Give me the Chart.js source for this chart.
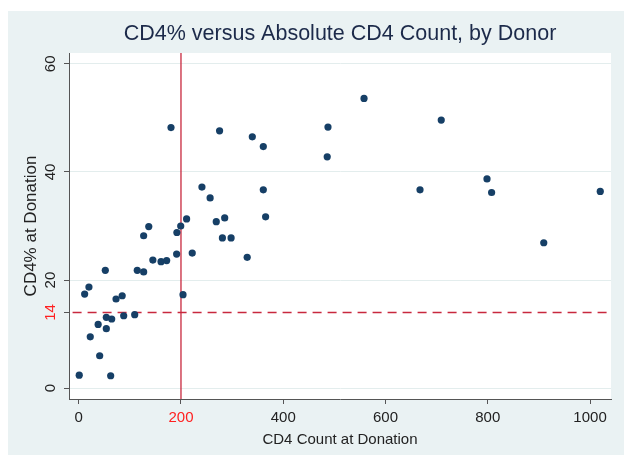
<!DOCTYPE html>
<html>
<head>
<meta charset="utf-8">
<script src="https://cdn.jsdelivr.net/npm/chart.js@4/dist/chart.umd.min.js"></script>
<style>
  html, body { margin: 0; padding: 0; background: #ffffff; }
  #wrap { position: absolute; left: 8px; top: 11px; width: 616px; height: 444px; background: #eaf2f3; }
</style>
</head>
<body>
<div id="wrap"><canvas id="cd4Chart"></canvas></div>
<script>
// CD4 count (x) and CD4% (y), one entry per donor
var cd4Count = [1, 62.5, 41, 22.6, 38, 54, 54, 64.5, 88, 109.5, 11.6, 20, 73, 85, 204, 52, 114.5, 127, 145, 161,
  172, 191.5, 222, 329.5, 127, 192, 281, 298, 180.5, 275.5, 339.5, 241, 257, 211, 199.5, 285.5, 269, 137, 361, 487.5,
  558, 486, 361, 365.5, 667.5, 709, 798.5, 807.5, 1020, 909.5]
var cd4Pct = [2.4, 2.3, 6.0, 9.5, 11.8, 11.0, 13.1, 12.8, 13.4, 13.6, 17.4, 18.7, 16.5, 17.1, 17.3, 21.8, 21.8, 21.5, 23.7, 23.4,
  23.6, 24.8, 25.0, 24.2, 28.2, 28.8, 27.8, 27.8, 48.2, 47.6, 46.5, 37.2, 35.2, 31.3, 30.0, 31.5, 30.8, 29.9, 44.7, 48.3,
  53.6, 42.8, 36.7, 31.7, 36.7, 49.6, 38.7, 36.2, 36.4, 26.9]

var xTicks = [0, 200, 400, 600, 800, 1000]
var yTicks = [0, 14, 20, 40, 60]
var countCutoff = 200
var pctCutoff = 14

var points = cd4Count.map(function (v, i) { return { x: v, y: cd4Pct[i] } })

const titleColor = '#1c2a4a'
const cutRed = '#ff2020'
const fontFamily = '"Liberation Sans", Arial, sans-serif'

// * title centred over the plot region, white plot background
const plotTitle = {
  id: 'plotTitle',
  beforeDraw: function (chart) {
    const c = chart.ctx
    const area = chart.chartArea
    c.save()
    c.fillStyle = '#ffffff'
    c.fillRect(area.left, area.top, area.right - area.left, area.bottom - area.top)
    c.font = '21.5px ' + fontFamily
    c.fillStyle = titleColor
    c.textAlign = 'center'
    c.textBaseline = 'middle'
    c.fillText('CD4% versus Absolute CD4 Count, by Donor', (area.left + area.right) / 2, 23)
    c.restore()
  }
}

const ctx = document.getElementById('cd4Chart').getContext('2d')

const chart = new Chart(ctx, {
  type: 'scatter',
  data: {
    datasets: [{
      label: 'Donors',
      data: points,
      backgroundColor: '#163f66',
      borderWidth: 0,
      pointRadius: 3.6,
      order: 0
    },
    {
      label: 'CD4 count 200',
      data: [{ x: countCutoff, y: -10 }, { x: countCutoff, y: 100 }],
      showLine: true,
      borderColor: '#c8283e',
      borderWidth: 1.3,
      pointRadius: 0,
      order: 1
    },
    {
      label: 'CD4% 14',
      data: [{ x: -100, y: pctCutoff }, { x: 1200, y: pctCutoff }],
      showLine: true,
      borderColor: '#c8283e',
      borderWidth: 1.3,
      borderDash: [9, 6],
      pointRadius: 0,
      order: 1
    }]
  },
  options: {
    responsive: true,
    maintainAspectRatio: false,
    animation: false,
    layout: { padding: { top: 42, right: 13, left: 0, bottom: 0 } },
    plugins: {
      legend: { display: false },
      tooltip: { enabled: false }
    },
    scales: {
      x: {
        type: 'linear',
        min: -19,
        max: 1041,
        afterBuildTicks: function (axis) { axis.ticks = xTicks.map(function (v) { return { value: v } }) },
        afterFit: function (axis) { axis.height = 56 },
        border: { color: '#555555', width: 1 },
        grid: { drawOnChartArea: false, tickLength: 5, tickColor: '#555555' },
        ticks: {
          padding: 5,
          maxRotation: 0,
          callback: function (v) { return String(v) },
          color: function (c) { return c.tick.value === countCutoff ? cutRed : '#222222' },
          font: { family: fontFamily, size: 15 }
        },
        title: {
          display: true,
          text: 'CD4 Count at Donation',
          color: '#222222',
          padding: { top: 0, bottom: 6 },
          font: { family: fontFamily, size: 15 }
        }
      },
      y: {
        type: 'linear',
        min: -2,
        max: 62,
        afterBuildTicks: function (axis) { axis.ticks = yTicks.map(function (v) { return { value: v } }) },
        afterFit: function (axis) { axis.width = 61 },
        border: { color: '#555555', width: 1 },
        grid: {
          color: function (c) { return c.tick && c.tick.value === pctCutoff ? 'rgba(0,0,0,0)' : '#e3eded' },
          tickLength: 5,
          tickColor: '#555555'
        },
        ticks: {
          padding: 5,
          minRotation: 90,
          maxRotation: 90,
          crossAlign: 'center',
          color: function (c) { return c.tick.value === pctCutoff ? cutRed : '#222222' },
          font: { family: fontFamily, size: 15 }
        },
        title: {
          display: true,
          text: 'CD4% at Donation',
          color: '#222222',
          padding: { top: 13, bottom: 0 },
          font: { family: fontFamily, size: 17 }
        }
      }
    }
  },
  plugins: [plotTitle]
})
</script>
</body>
</html>
